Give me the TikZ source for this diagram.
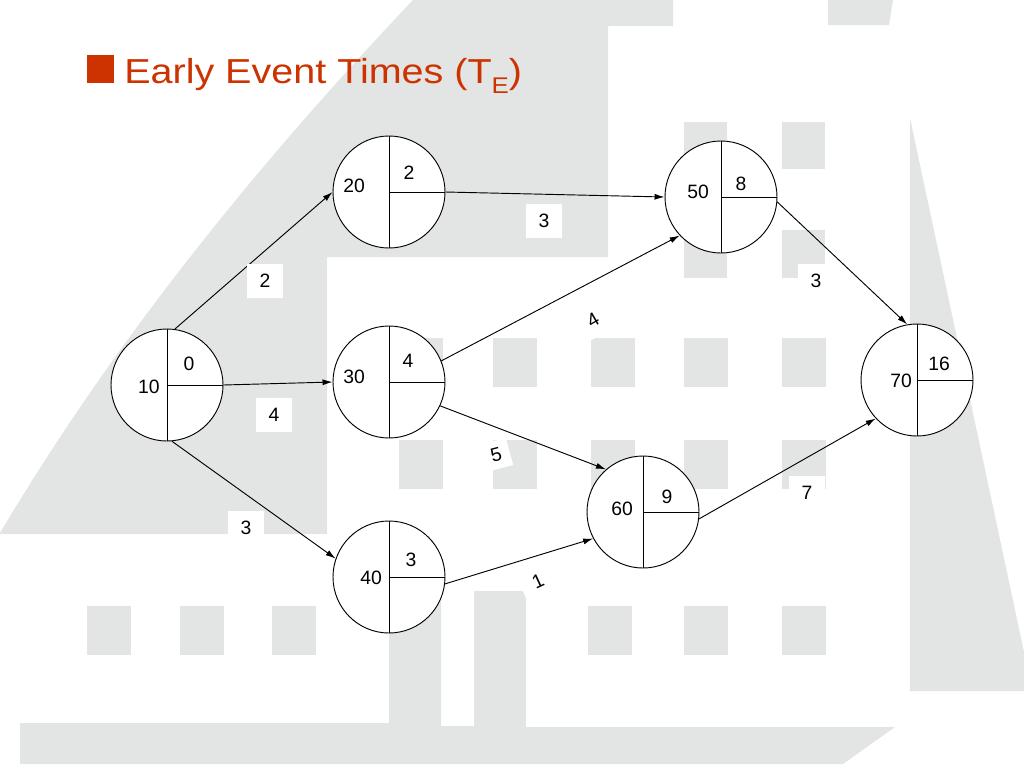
\documentclass[tikz,border=0pt]{standalone}
\usepackage{fontspec}
\setmainfont{Liberation Sans}
\usepackage{graphicx}
\usetikzlibrary{arrows.meta}

\definecolor{bggray}{RGB}{227,228,228}
\definecolor{titlered}{RGB}{204,51,0}

\begin{document}
\begin{tikzpicture}[x=0.75pt,y=-0.75pt,
    event/.style={draw, circle, fill=white, minimum size=84pt, inner sep=0pt, line width=0.7pt},
    num/.style={inner sep=0pt, font=\fontsize{14.5}{17}\selectfont},
    weight/.style={num, fill=white, minimum width=27pt, minimum height=25pt},
    link/.style={-{Latex[length=7.5pt,width=4.5pt]}, line width=0.7pt}]
        \useasboundingbox (0,0) rectangle (1024,768);
        \def \side {44}
        \def \tall {49}

        % background of the slide
        \fill[bggray] (413,0) .. controls (243,179) and (105,356) .. (0,533)
          -- (0,534) -- (327,534) -- (327,257) -- (608,257) -- (608,26)
          -- (673,26) -- (673,0) -- cycle;
        \fill[bggray] (828,0) -- (893,0) -- (889,25) -- (828,25) -- cycle;
        \fill[bggray] (910,118) -- (1024,652) -- (1024,691) -- (910,691) -- cycle;
        \fill[bggray] (20,723) -- (389,723) -- (389,560) -- (441,560) -- (441,726)
          -- (474,726) -- (474,591) -- (526,591) -- (526,727) -- (895,727)
          -- (843,764) -- (20,764) -- cycle;
        \foreach \x in {399,493,591,684,782}
          \foreach \y in {338,440}
            \fill[bggray] (\x,\y) rectangle +(\side,\tall);
        \foreach \x in {87,180,272,588,684,782}
          \fill[bggray] (\x,606) rectangle +(\side,\tall);
        \fill[bggray] (684,122) rectangle (727,278);
        \fill[bggray] (782,122) rectangle (825,169);
        \fill[bggray] (782,230) rectangle (825,278);

        % title
        \node[fill=titlered, minimum width=20pt, minimum height=21pt, inner sep=0pt,
          anchor=north west] (bullet) at (87,55) {};
        \node[anchor=base west, inner sep=0pt, text=titlered,
          font=\fontsize{26}{30}\selectfont] (title) at (124,83)
          {\scalebox{1.14}[1]{Early Event Times (T\raisebox{-7.5pt}{\fontsize{17}{17}\selectfont E})}};

        % events
        \foreach \nm/\x/\y/\te/\lx/\ly/\rx/\ry in {10/167/385/0/-18/2/22/-21,
            20/389/192/2/-35/-6/20/-19, 30/389/382/4/-35/-5/19/-21,
            40/389/577/3/-18/1/22/-17, 50/721/197/8/-23/-5/20/-13,
            60/643/512/9/-21/-3/24/-15, 70/917/380/16/-16/1/22/-16}{
          \node[event] (n\nm) at (\x,\y) {};
          \draw[line width=0.7pt] (n\nm.north) -- (n\nm.south);
          \draw[line width=0.7pt] (n\nm.center) -- (n\nm.east);
          \node[num] (id\nm) at ([shift={(\lx,\ly)}]n\nm.center) {\nm};
          \node[num] (te\nm) at ([shift={(\rx,\ry)}]n\nm.center) {\te};
        }

        % activities
        \draw[link] (n10.82) -- (n20.west);
        \draw[link] (n10.east) -- (n30.west);
        \draw[link] (n10.-85) -- (n40.161);
        \draw[link] (n20.east) -- (n50.west);
        \draw[link] (n30.22) -- (n50.223);
        \draw[link] (n30.-25) -- (n60.131);
        \draw[link] (n40.-7) -- (n60.208);
        \draw[link] (n50.-5) -- (n70.100);
        \draw[link] (n60.-7) -- (n70.223);

        \node[weight] (w1020) at (265,281) {2};
        \node[weight] (w1030) at (274,415) {4};
        \node[weight] (w1040) at (246,528) {3};
        \node[weight] (w2050) at (544,221) {3};
        \node[weight, rotate=30] (w3050) at (593,320) {4};
        \node[weight, rotate=15, minimum width=21pt, minimum height=21pt] (w3060) at (496,455) {5};
        \node[weight, rotate=25] (w4060) at (538,581) {1};
        \node[weight] (w5070) at (816,281) {3};
        \node[weight] (w6070) at (807,493) {7};
\end{tikzpicture}
\end{document}
